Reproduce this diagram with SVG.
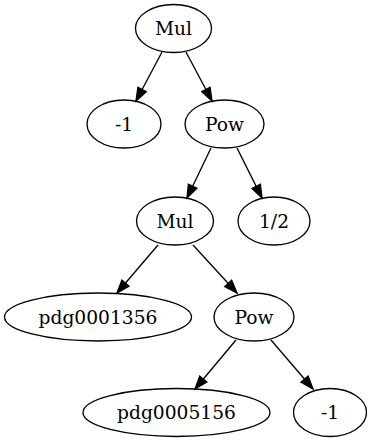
<svg xmlns="http://www.w3.org/2000/svg" width="371" height="443" viewBox="0 0 371 443">
<style>
.n ellipse{fill:none;stroke:#000;stroke-width:1.33}
.n text{font-family:"DejaVu Serif","Liberation Serif",serif;font-size:18.67px;text-anchor:middle;fill:#000}
.e line{stroke:#000;stroke-width:1.33;marker-end:url(#ah)}
</style>
<defs>
<marker id="ah" markerUnits="userSpaceOnUse" markerWidth="14" markerHeight="12" refX="13" refY="0" viewBox="0 -6 14 12" orient="auto" overflow="visible">
<path d="M0,-4.7 L13,0 L0,4.7 z" fill="#000" stroke="#000" stroke-width="1.33"/>
</marker>
</defs>
<rect width="371" height="443" fill="#fff"/>
<g id="edges" class="e">
<line x1="162" y1="52" x2="136" y2="101"/>
<line x1="186" y1="52" x2="212" y2="101"/>
<line x1="211" y1="148" x2="187" y2="198"/>
<line x1="237" y1="148" x2="262" y2="198"/>
<line x1="158" y1="245" x2="117" y2="293"/>
<line x1="193" y1="245" x2="237" y2="293"/>
<line x1="236" y1="340" x2="195" y2="389"/>
<line x1="271" y1="340" x2="313" y2="389"/>
</g>
<g id="n1" class="n"><ellipse cx="173.5" cy="28.5" rx="38" ry="24"/><text x="173.5" y="35">Mul</text></g>
<g id="n2" class="n"><ellipse cx="124" cy="124" rx="37" ry="24"/><text x="124" y="130.5">-1</text></g>
<g id="n3" class="n"><ellipse cx="224.5" cy="124" rx="39.5" ry="24"/><text x="224.5" y="130.5">Pow</text></g>
<g id="n4" class="n"><ellipse cx="175" cy="221" rx="38.5" ry="24"/><text x="175" y="227.5">Mul</text></g>
<g id="n5" class="n"><ellipse cx="274" cy="221" rx="36" ry="24"/><text x="274" y="227.5">1/2</text></g>
<g id="n6" class="n"><ellipse cx="98" cy="317" rx="93.5" ry="24"/><text x="98" y="323.5">pdg0001356</text></g>
<g id="n7" class="n"><ellipse cx="254" cy="317" rx="40" ry="24"/><text x="254" y="323.5">Pow</text></g>
<g id="n8" class="n"><ellipse cx="176.5" cy="412.5" rx="93.5" ry="24"/><text x="176.5" y="419">pdg0005156</text></g>
<g id="n9" class="n"><ellipse cx="330" cy="412.5" rx="36.5" ry="24"/><text x="330" y="419">-1</text></g>
</svg>
